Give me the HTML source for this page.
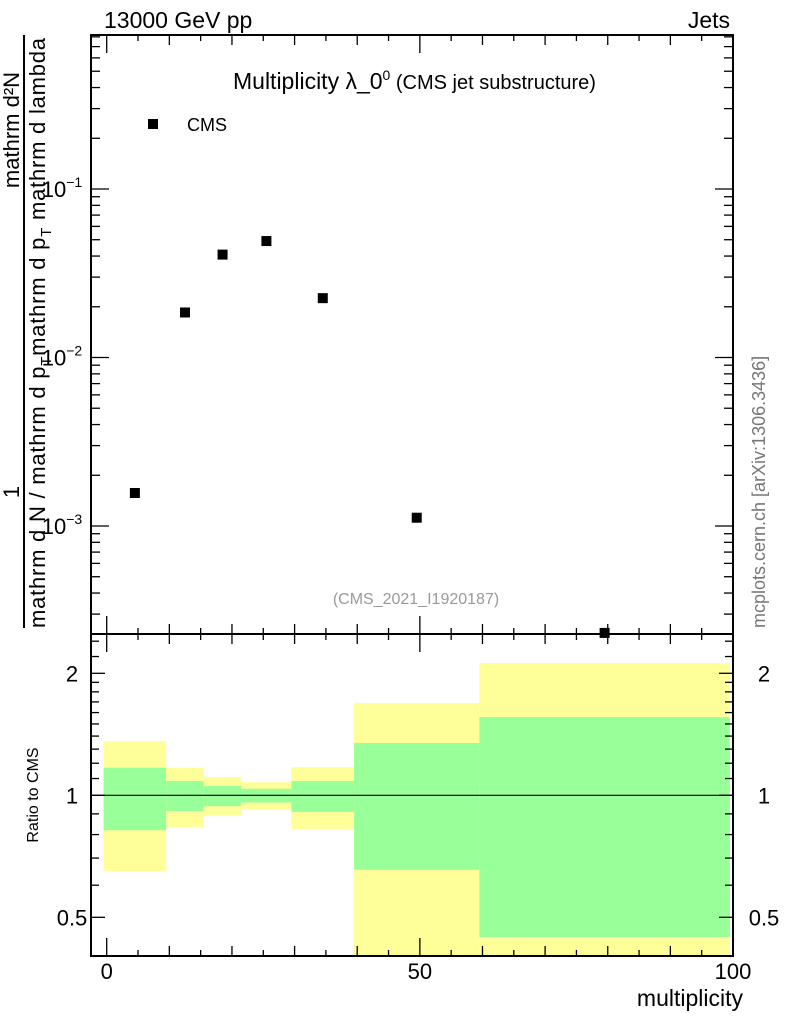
<!DOCTYPE html>
<html><head><meta charset="utf-8"><style>
body{margin:0;background:#fff}
svg{display:block;font-family:"Liberation Sans",sans-serif}
</style></head><body>
<svg id="c" width="786" height="1024" viewBox="0 0 786 1024">
<g id="bands"></g>
<g id="marks"></g>
<g id="axes"></g>
<text x="104" y="28" font-size="23">13000 GeV pp</text>
<text x="730" y="28" font-size="23" text-anchor="end">Jets</text>
<text x="233" y="89" font-size="23">Multiplicity λ_0<tspan font-size="14" dy="-9">0</tspan><tspan font-size="20" dy="9"> (CMS jet substructure)</tspan></text>
<rect x="148" y="119" width="10" height="10" fill="#000"/>
<text x="187" y="131" font-size="18">CMS</text>
<text x="416" y="604" font-size="16" fill="#999" text-anchor="middle">(CMS_2021_I1920187)</text>
<text transform="translate(765,628) rotate(-90)" font-size="18" fill="#777">mcplots.cern.ch [arXiv:1306.3436]</text>
<g font-size="22">
<text transform="translate(19,492) rotate(-90)" text-anchor="middle">1</text>
<text transform="translate(19,130) rotate(-90)" text-anchor="middle">mathrm d²N</text>
<line x1="24" y1="35" x2="24" y2="628" stroke="#000" stroke-width="2"/>
<text transform="translate(45,628) rotate(-90)" textLength="590">mathrm d N / mathrm d p<tspan dy="6" font-size="15">T</tspan><tspan dy="-6">mathrm d p</tspan><tspan dy="6" font-size="15">T</tspan><tspan dy="-6"> mathrm d lambda</tspan></text>
</g>
<text transform="translate(38,795) rotate(-90)" font-size="16" text-anchor="middle">Ratio to CMS</text>
<text x="743" y="1006" font-size="23" text-anchor="end">multiplicity</text>
</svg>
<script>
const binEdges=[-0.5,9.5,15.5,21.5,29.5,39.5,59.5,99.5];
const xCenters=[4.5,12.5,18.5,25.5,34.5,49.5,79.5];
const yValues=[1.57e-3,0.0185,0.0408,0.0491,0.0225,1.12e-3,2.32e-4];
const yellowHi=[1.36,1.168,1.11,1.077,1.174,1.69,2.12];
const yellowLo=[0.65,0.835,0.89,0.92,0.826,0.3,0.3];
const greenHi=[1.17,1.085,1.054,1.038,1.085,1.346,1.56];
const greenLo=[0.82,0.915,0.94,0.96,0.91,0.655,0.447];
const xTickLabels=[0,50,100];
const yTickExp=[-1,-2,-3];
const rTickLabels=[0.5,1,2];

const NS='http://www.w3.org/2000/svg';
const L=91,R=733,T=35,M=634,B=956;
const X=v=>106.7+v*6.263;
const Y=v=>189-(Math.log10(v)+1)*168.5;
const RY=v=>795.3-Math.log2(v)*122;
function mk(tag,attrs,parent){const e=document.createElementNS(NS,tag);for(const k in attrs)e.setAttribute(k,attrs[k]);parent.appendChild(e);return e;}
const bands=document.getElementById('bands'),marks=document.getElementById('marks'),axes=document.getElementById('axes');
const clip=mk('clipPath',{id:'rc'},document.getElementById('c'));mk('rect',{x:L,y:M,width:R-L,height:B-M},clip);
const clip2=mk('clipPath',{id:'mc'},document.getElementById('c'));mk('rect',{x:L,y:T,width:R-L,height:M-T+6},clip2);
bands.setAttribute('clip-path','url(#rc)');
marks.setAttribute('clip-path','url(#mc)');
for(let i=0;i<xCenters.length;i++){
 const x0=X(binEdges[i]),x1=X(binEdges[i+1]);
 const y=mk('rect',{x:x0,y:RY(yellowHi[i]),width:x1-x0,height:RY(yellowLo[i])-RY(yellowHi[i]),fill:'#ffff99'},bands);
 
 
 const g=mk('rect',{x:x0,y:RY(greenHi[i]),width:x1-x0,height:RY(greenLo[i])-RY(greenHi[i]),fill:'#99ff99'},bands);
 
 
 const p=mk('rect',{x:X(xCenters[i])-5,y:Y(yValues[i])-5,width:10,height:10,fill:'#000'},marks);
 
 
}
mk('line',{x1:L,x2:R,y1:RY(1),y2:RY(1),stroke:'#000','stroke-width':1.2},axes);
mk('rect',{x:L,y:T,width:R-L,height:B-T,fill:'none',stroke:'#000','stroke-width':2},axes);
mk('line',{x1:L,x2:R,y1:M,y2:M,stroke:'#000','stroke-width':2},axes);
for(let v=0;v<=100;v+=5){
 const len=v%50===0?18:(v%10===0?10:6);
 [[M,1],[B,-1],[T,1],[M,-1]].forEach(([y0,d])=>mk('line',{x1:X(v),x2:X(v),y1:y0,y2:y0+d*len,stroke:'#000','stroke-width':1.3},axes));
}
xTickLabels.forEach(v=>{const t=mk('text',{x:X(v),y:979,'font-size':22,'text-anchor':'middle'},axes);t.textContent=v;
 
 });
for(let e=-4;e<=-1;e++){for(let m=1;m<10;m++){const v=m*Math.pow(10,e);const y=Y(v);if(y<T||y>M)continue;
 const len=m===1?18:9;
 mk('line',{x1:L,x2:L+len,y1:y,y2:y,stroke:'#000','stroke-width':1.3},axes);
 mk('line',{x1:R,x2:R-len,y1:y,y2:y,stroke:'#000','stroke-width':1.3},axes);}}
yTickExp.forEach(e=>{const t=mk('text',{x:62,y:Y(Math.pow(10,e))+8,'font-size':22,'text-anchor':'middle'},axes);
 t.innerHTML='10<tspan font-size="14" dy="-10">−'+(-e)+'</tspan>';
 
 });
[0.4,0.5,0.6,0.7,0.8,0.9,1,1.1,1.2,1.3,1.4,1.5,1.6,1.7,1.8,1.9,2,2.2,2.4].forEach(v=>{const y=RY(v);if(y<M||y>B)return;
 const len=(v===0.5||v===1||v===2)?14:8;
 mk('line',{x1:L,x2:L+len,y1:y,y2:y,stroke:'#000','stroke-width':1.3},axes);
 mk('line',{x1:R,x2:R-len,y1:y,y2:y,stroke:'#000','stroke-width':1.3},axes);});
rTickLabels.forEach(v=>{[72,764].forEach(x=>{const t=mk('text',{x:x,y:RY(v)+8,'font-size':22,'text-anchor':'middle'},axes);t.textContent=v;
 
 });});
</script>
</body></html>
